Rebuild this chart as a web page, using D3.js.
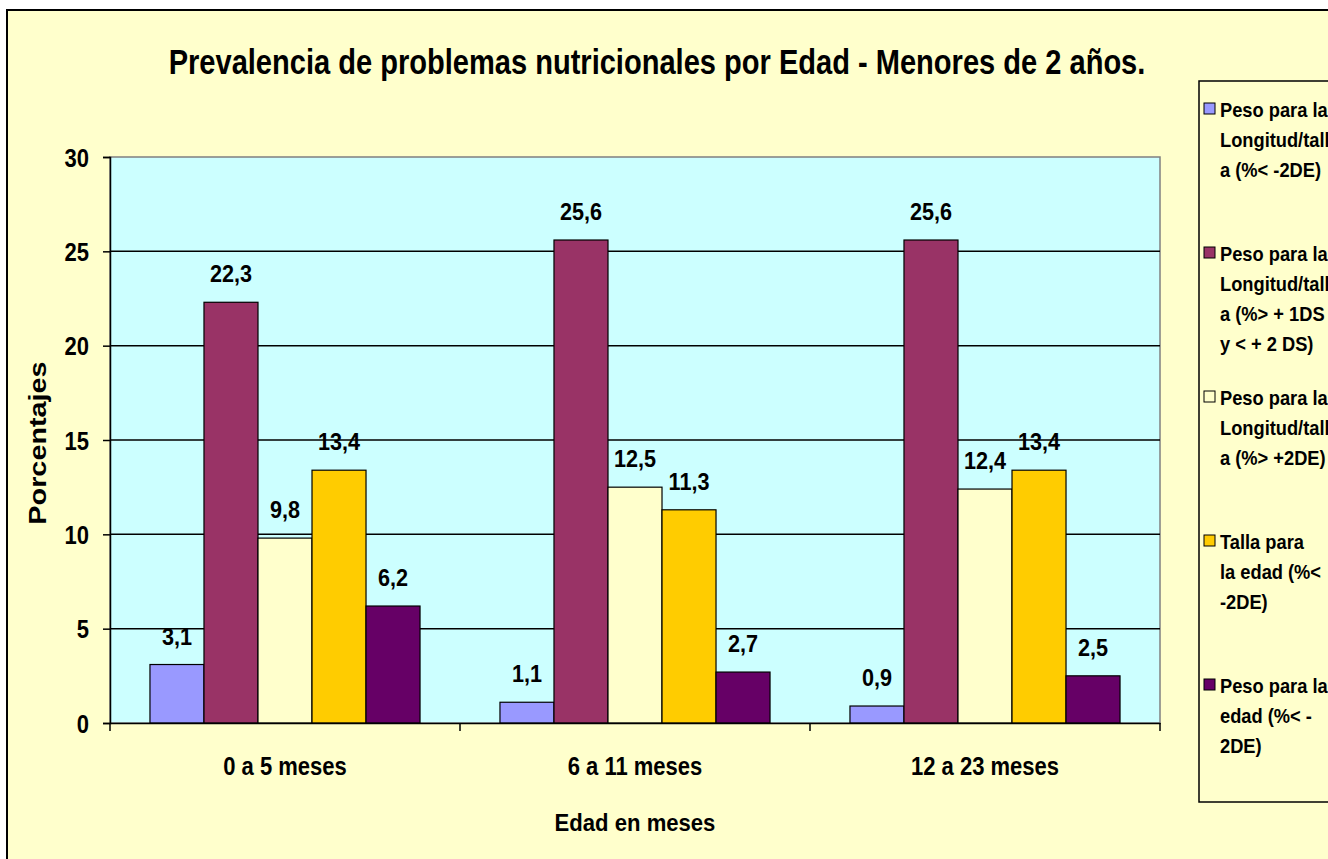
<!DOCTYPE html>
<html>
<head>
<meta charset="utf-8">
<script src="https://cdn.jsdelivr.net/npm/d3@7"></script>
<style>
  html, body { margin: 0; padding: 0; background: #ffffff; overflow: hidden; }
  svg { display: block; }
  text { font-family: "Liberation Sans", Arial, sans-serif; font-weight: bold; fill: #000; }
</style>
</head>
<body>
<div id="chart"></div>
<script>
// data
const categories = ["0 a 5 meses", "6 a 11 meses", "12 a 23 meses"];
const seriesNames = [
  "Peso para la Longitud/talla (%< -2DE)",
  "Peso para la Longitud/talla (%> + 1DS y < + 2 DS)",
  "Peso para la Longitud/talla (%> +2DE)",
  "Talla para la edad (%< -2DE)",
  "Peso para la edad (%< -2DE)"
];
// legend text as it wraps in the picture
const legendLines = [
  ["Peso para la", "Longitud/talla", "a (%< -2DE)"],
  ["Peso para la", "Longitud/talla", "a (%> + 1DS", "y < + 2 DS)"],
  ["Peso para la", "Longitud/talla", "a (%> +2DE)"],
  ["Talla para", "la edad (%<", "-2DE)"],
  ["Peso para la", "edad (%< -", "2DE)"]
];
const values = [
  [3.1, 22.3, 9.8, 13.4, 6.2],
  [1.1, 25.6, 12.5, 11.3, 2.7],
  [0.9, 25.6, 12.4, 13.4, 2.5]
];
const colors = ["#9999ff", "#993366", "#ffffcc", "#ffcc00", "#660066"];
const yTicks = [0, 5, 10, 15, 20, 25, 30];

const width = 1328, height = 859;
const plot = { left: 110, right: 1160, top: 157, bottom: 723 };

// squeeze text to look like a narrow face
function condense(sel, f) {
  sel.each(function () {
    const w = this.getComputedTextLength();
    d3.select(this).attr("textLength", w * f).attr("lengthAdjust", "spacingAndGlyphs");
  });
}

const svg = d3.select("#chart").append("svg")
  .attr("width", width)
  .attr("height", height);

// chart background
svg.append("rect")
  .attr("x", 7).attr("y", 10)
  .attr("width", width + 20).attr("height", height + 20)
  .attr("fill", "#ffffcc")
  .attr("stroke", "#000").attr("stroke-width", 2);

const x0 = d3.scaleBand()
  .domain(categories)
  .range([plot.left, plot.right]);

const x1 = d3.scaleBand()
  .domain(d3.range(seriesNames.length))
  .range([0, x0.bandwidth()])
  .paddingOuter(0.74);

const y = d3.scaleLinear()
  .domain([0, 30])
  .range([plot.bottom, plot.top]);

// plot area
svg.append("rect")
  .attr("x", plot.left).attr("y", plot.top)
  .attr("width", plot.right - plot.left).attr("height", plot.bottom - plot.top)
  .attr("fill", "#ccffff")
  .attr("stroke", "#808080").attr("stroke-width", 1.5);

// gridlines
svg.append("g")
  .selectAll("line")
  .data(yTicks.filter(d => d > 0 && d < 30))
  .join("line")
  .attr("x1", plot.left).attr("x2", plot.right)
  .attr("y1", d => y(d)).attr("y2", d => y(d))
  .attr("stroke", "#000").attr("stroke-width", 1.5);

// bars
const groups = svg.append("g")
  .selectAll("g")
  .data(values)
  .join("g")
  .attr("transform", (d, i) => `translate(${x0(categories[i])},0)`);

groups.selectAll("rect")
  .data(d => d)
  .join("rect")
  .attr("x", (d, j) => x1(j))
  .attr("y", d => y(d))
  .attr("width", x1.bandwidth())
  .attr("height", d => y(0) - y(d))
  .attr("fill", (d, j) => colors[j])
  .attr("stroke", "#000").attr("stroke-width", 1.2);

groups.selectAll("text")
  .data(d => d)
  .join("text")
  .attr("x", (d, j) => x1(j) + x1.bandwidth() / 2)
  .attr("y", d => y(d) - 20)
  .attr("text-anchor", "middle")
  .style("font-size", "24px")
  .text(d => String(d).replace(".", ","))
  .call(condense, 0.9);

// y axis
const yAxis = svg.append("g")
  .attr("transform", `translate(${plot.left},0)`)
  .call(d3.axisLeft(y).tickValues(yTicks).tickSize(7).tickPadding(14));
yAxis.attr("font-family", null);
yAxis.selectAll("path, line").attr("stroke", "#000").attr("stroke-width", 1.5);
yAxis.selectAll("text").style("font-size", "25px").attr("dy", "0.36em").call(condense, 0.88);

// x axis
const xAxis = svg.append("g")
  .attr("transform", `translate(0,${plot.bottom})`)
  .call(d3.axisBottom(x0).tickSize(0).tickPadding(34));
xAxis.attr("font-family", null);
xAxis.select(".domain").attr("stroke", "#000").attr("stroke-width", 1.5);
xAxis.selectAll("text").style("font-size", "25px").call(condense, 0.88);

// category separator ticks
svg.append("g")
  .selectAll("line")
  .data(categories.concat(["end"]))
  .join("line")
  .attr("x1", (d, i) => i < categories.length ? x0(d) : plot.right)
  .attr("x2", (d, i) => i < categories.length ? x0(d) : plot.right)
  .attr("y1", plot.bottom).attr("y2", plot.bottom + 8)
  .attr("stroke", "#000").attr("stroke-width", 1.5);

// titles
svg.append("text")
  .attr("x", 657).attr("y", 74)
  .attr("text-anchor", "middle")
  .style("font-size", "35px")
  .text("Prevalencia de problemas nutricionales por Edad - Menores de 2 años.")
  .call(condense, 0.83);

svg.append("text")
  .attr("x", (plot.left + plot.right) / 2).attr("y", 831)
  .attr("text-anchor", "middle")
  .style("font-size", "24px")
  .text("Edad en meses")
  .call(condense, 0.92);

svg.append("text")
  .attr("transform", `translate(46,443) rotate(-90)`)
  .attr("text-anchor", "middle")
  .style("font-size", "24px")
  .text("Porcentajes")
  .call(condense, 1.2);

// legend
const legend = svg.append("g");
legend.append("rect")
  .attr("x", 1199).attr("y", 81)
  .attr("width", 200).attr("height", 721)
  .attr("fill", "#ffffcc")
  .attr("stroke", "#000").attr("stroke-width", 1.5);

const items = legend.selectAll("g")
  .data(legendLines)
  .join("g")
  .attr("transform", (d, i) => `translate(1204,${103 + i * 144})`);

items.append("rect")
  .attr("width", 11).attr("height", 11)
  .attr("fill", (d, i) => colors[i])
  .attr("stroke", "#000").attr("stroke-width", 1);

items.selectAll("text")
  .data(d => d)
  .join("text")
  .attr("x", 16)
  .attr("y", (d, k) => 14 + k * 30)
  .style("font-size", "21px")
  .text(d => d)
  .call(condense, 0.87);
</script>
</body>
</html>
